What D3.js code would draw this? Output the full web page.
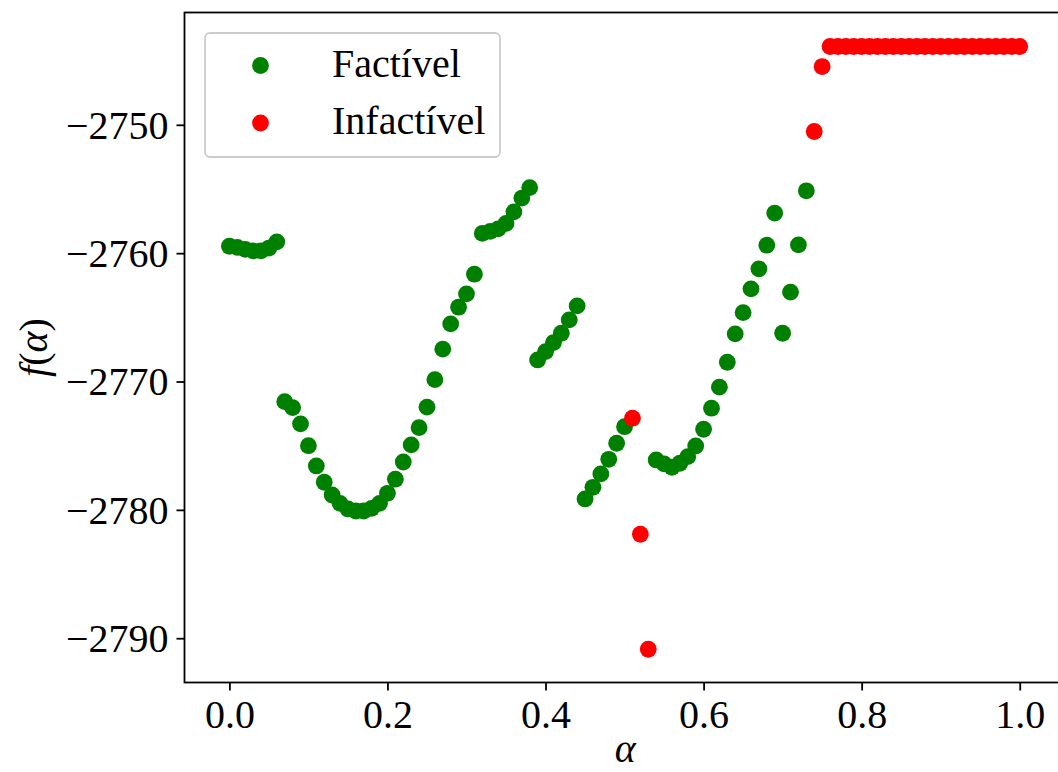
<!DOCTYPE html>
<html>
<head>
<meta charset="utf-8">
<script src="https://cdn.jsdelivr.net/npm/d3@7"></script>
<style>
  html, body { margin: 0; padding: 0; background: #fff; }
  svg { display: block; }
  text { font-family: "Liberation Serif", "Times New Roman", serif; fill: #000; }
</style>
</head>
<body>
<svg id="chart" width="1058" height="772"></svg>
<script>
// ---- data ----
const feasibleAlpha = [0.00,0.01,0.02,0.03,0.04,0.05,0.06,
  0.07,0.08,0.09,0.10,0.11,0.12,0.13,0.14,0.15,0.16,0.17,0.18,0.19,0.20,
  0.21,0.22,0.23,0.24,0.25,0.26,0.27,0.28,0.29,0.30,0.31,
  0.32,0.33,0.34,0.35,0.36,0.37,0.38,
  0.39,0.40,0.41,0.42,0.43,0.44,
  0.45,0.46,0.47,0.48,0.49,0.50,
  0.54,0.55,0.56,0.57,0.58,0.59,0.60,0.61,0.62,0.63,0.64,0.65,0.66,0.67,0.68,0.69,
  0.70,0.71,0.72,0.73];
const feasibleF = [-2759.46,-2759.55,-2759.70,-2759.82,-2759.82,-2759.60,-2759.12,
  -2771.57,-2772.03,-2773.30,-2775.00,-2776.58,-2777.85,-2778.84,-2779.49,-2779.93,-2780.09,-2780.09,-2779.88,-2779.49,-2778.71,
  -2777.61,-2776.27,-2774.94,-2773.59,-2772.00,-2769.85,-2767.48,-2765.51,-2764.21,-2763.17,-2761.64,
  -2758.46,-2758.30,-2758.11,-2757.68,-2756.78,-2755.71,-2754.89,
  -2768.32,-2767.67,-2766.97,-2766.24,-2765.20,-2764.11,
  -2779.15,-2778.24,-2777.20,-2776.06,-2774.81,-2773.52,
  -2776.11,-2776.42,-2776.68,-2776.37,-2775.85,-2775.02,-2773.72,-2772.08,-2770.44,-2768.50,-2766.29,-2764.63,-2762.78,-2761.22,-2759.38,-2756.88,
  -2766.24,-2763.04,-2759.35,-2755.14];
const infeasibleAlpha = [0.51,0.52,0.53,0.74,0.75,
  0.76,0.77,0.78,0.79,0.80,0.81,0.82,0.83,0.84,0.85,0.86,0.87,0.88,0.89,0.90,
  0.91,0.92,0.93,0.94,0.95,0.96,0.97,0.98,0.99,1.00];
const infeasibleF = [-2772.86,-2781.90,-2790.86,-2750.52,-2745.46,
  -2743.90,-2743.90,-2743.90,-2743.90,-2743.90,-2743.90,-2743.90,-2743.90,-2743.90,-2743.90,
  -2743.90,-2743.90,-2743.90,-2743.90,-2743.90,-2743.90,-2743.90,-2743.90,-2743.90,-2743.90,
  -2743.90,-2743.90,-2743.90,-2743.90,-2743.90];
const xTicks = [0.0,0.2,0.4,0.6,0.8,1.0];
const xTickLabels = ["0.0","0.2","0.4","0.6","0.8","1.0"];
const yTicks = [-2790,-2780,-2770,-2760,-2750];
const yTickLabels = ["\u22122790","\u22122780","\u22122770","\u22122760","\u22122750"];
const seriesNames = ["Factível","Infactível"];
const seriesColors = ["green","red"];

// ---- layout ----
const L = 184.5, R = 1062, T = 12.5, B = 682.5;
const x = d3.scaleLinear().domain([-0.0568, 1.0535]).range([L, R]);
const y = d3.scaleLinear().domain([-2793.45, -2741.25]).range([B, T]);
const svg = d3.select("#chart");
const FS = 40;

// points
const ptR = 8.4;
svg.append("g").selectAll("circle").data(feasibleAlpha).join("circle")
  .attr("cx", (d) => x(d)).attr("cy", (d, i) => y(feasibleF[i]))
  .attr("r", ptR).attr("fill", seriesColors[0]);
svg.append("g").selectAll("circle").data(infeasibleAlpha).join("circle")
  .attr("cx", (d) => x(d)).attr("cy", (d, i) => y(infeasibleF[i]))
  .attr("r", ptR).attr("fill", seriesColors[1]);

// axes
const xAxis = d3.axisBottom(x).tickValues(xTicks).tickFormat((d, i) => xTickLabels[i])
  .tickSize(8).tickPadding(9);
const gx = svg.append("g").attr("transform", `translate(0,${B})`).call(xAxis);
gx.select(".domain").remove();
gx.selectAll(".tick line").attr("stroke", "#000").attr("stroke-width", 1.8);
gx.selectAll(".tick text").attr("font-size", FS).attr("font-family", "Liberation Serif")
  .attr("dy", "0.70em");

const yAxis = d3.axisLeft(y).tickValues(yTicks).tickFormat((d, i) => yTickLabels[i])
  .tickSize(8).tickPadding(8);
const gy = svg.append("g").attr("transform", `translate(${L},0)`).call(yAxis);
gy.select(".domain").remove();
gy.selectAll(".tick line").attr("stroke", "#000").attr("stroke-width", 1.8);
gy.selectAll(".tick text").attr("font-size", FS).attr("font-family", "Liberation Serif")
  .attr("dy", "0.33em");

// spines
svg.append("rect").attr("x", L).attr("y", T).attr("width", R - L).attr("height", B - T)
  .attr("fill", "none").attr("stroke", "#000").attr("stroke-width", 1.8);

// axis labels
svg.append("text").attr("x", (L + 1058) / 2 + 4).attr("y", 762)
  .attr("text-anchor", "middle").attr("font-size", FS).attr("font-style", "italic").text("α");
const yl = svg.append("text").attr("transform", `translate(47,${(T + B) / 2}) rotate(-90)`)
  .attr("text-anchor", "middle").attr("font-size", FS);
yl.append("tspan").attr("font-style", "italic").text("f");
yl.append("tspan").text("(");
yl.append("tspan").attr("font-style", "italic").text("α");
yl.append("tspan").text(")");

// legend
const lg = svg.append("g");
lg.append("rect").attr("x", 205).attr("y", 33).attr("width", 295).attr("height", 124)
  .attr("rx", 5).attr("ry", 5).attr("fill", "#fff").attr("fill-opacity", 0.8)
  .attr("stroke", "#cccccc").attr("stroke-width", 1.8);
const legY = [65.5, 123];
seriesNames.forEach((name, i) => {
  lg.append("circle").attr("cx", 260.5).attr("cy", legY[i]).attr("r", ptR).attr("fill", seriesColors[i]);
  lg.append("text").attr("x", 332).attr("y", legY[i] + 11).attr("font-size", FS).text(name);
});
</script>
</body>
</html>
